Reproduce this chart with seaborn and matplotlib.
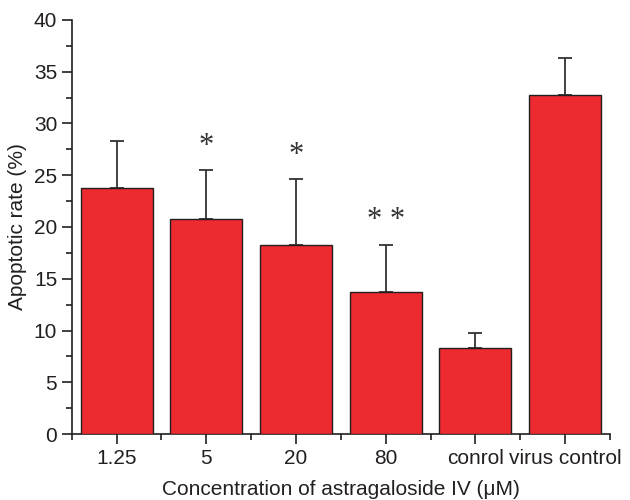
import matplotlib
matplotlib.use("Agg")
import matplotlib.pyplot as plt
import seaborn as sns
import pandas as pd
import numpy as np
from matplotlib.ticker import MultipleLocator, FixedLocator

categories = ["1.25", "5", "20", "80", "conrol", "virus control"]
rates = [23.8, 20.8, 18.3, 13.7, 8.3, 32.8]
errors = [4.5, 4.7, 6.3, 4.6, 1.5, 3.5]
marks = ["", "*", "*", "* *", "", ""]

sns.set_style("ticks")
plt.rcParams['font.family'] = ['Liberation Sans', 'DejaVu Sans']

df = pd.DataFrame({"cat": categories, "rate": rates})

fig = plt.figure(figsize=(6.3, 5.0), dpi=100)
ax = fig.add_axes([0.114, 0.132, 0.854, 0.828])

red = "#ec2a2f"
edge = "#231f20"
sns.barplot(data=df, x="cat", y="rate", color=red, saturation=1, width=0.8,
            edgecolor=edge, linewidth=1.0, ax=ax, zorder=3)

xs = np.arange(len(categories))
ax.errorbar(xs, rates, yerr=[np.zeros(len(errors)), errors], fmt="none",
            ecolor="#333333", elinewidth=1.3, capsize=5, capthick=1.3, zorder=2)

for x, r, e, m in zip(xs, rates, errors, marks):
    if m:
        ax.text(x, r + e + 0.9, m, ha="center", va="bottom", fontsize=22,
                family="Liberation Serif", color="#333333")

ax.set_xlim(-0.5, 5.5)
ax.set_ylim(0, 40)
ax.yaxis.set_major_locator(MultipleLocator(5))
ax.yaxis.set_minor_locator(MultipleLocator(2.5))
ax.xaxis.set_minor_locator(FixedLocator(np.arange(-0.5, 5.6, 1.0)))

for s in ["top", "right"]:
    ax.spines[s].set_visible(False)
for s in ["left", "bottom"]:
    ax.spines[s].set_color(edge)
    ax.spines[s].set_linewidth(1.2)

ax.tick_params(axis="both", which="major", direction="out", length=7, width=1.2,
               colors=edge, labelsize=15, labelcolor="#231f20")
ax.tick_params(axis="both", which="minor", direction="out", length=4, width=1.2, colors=edge)

ax.set_xlabel("Concentration of astragaloside IV (\u03bcM)", fontsize=15, color="#231f20", labelpad=9)
ax.set_ylabel("Apoptotic rate (%)", fontsize=15, color="#231f20", labelpad=5)

fig.savefig("out.png", dpi=100)
